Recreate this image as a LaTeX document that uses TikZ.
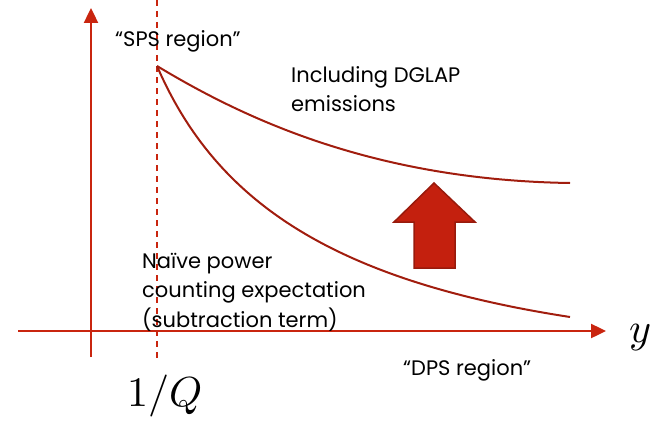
\documentclass[tikz,border=0pt]{standalone}
\usepackage{xcolor}
\usepackage{mathtools}
\usepackage{fontspec}
\usepackage{unicode-math}
\setmainfont{Poppins}
\setmathfont{Latin Modern Math}
\usepackage{tikz}
\usetikzlibrary{arrows.meta}
\definecolor{axisred}{HTML}{C9250F}
\definecolor{curvered}{HTML}{A11D0E}
\definecolor{arrowfill}{HTML}{C4200E}
\definecolor{arrowline}{HTML}{981A0C}

\begin{document}
\begin{tikzpicture}[x=1pt,y=-1pt]
\tikzstyle{every node}+=[inner sep=0pt]
\tikzstyle{axis}=[axisred, line width=2.4pt, -{Triangle[length=15pt,width=14pt]}]
\tikzstyle{curve}=[curvered, line width=2pt]
\tikzstyle{label}=[font=\fontsize{21}{29.5}\selectfont, align=left]
\tikzstyle{mathlabel}=[font=\fontsize{42}{46}\selectfont]
\useasboundingbox (0,0) rectangle (663,420);
% axes
\coordinate (xstart) at (18,331);
\coordinate (xend) at (606,331);
\coordinate (ystart) at (91,357);
\coordinate (yend) at (91,8);
\draw [axis] (xstart) -- (xend);
\draw [axis] (ystart) -- (yend);
% 1/Q line
\coordinate (qtop) at (157,0);
\coordinate (qbot) at (157,358);
\draw [axisred, line width=2pt, dash pattern=on 6pt off 5pt] (qtop) -- (qbot);
% curves
\coordinate (start) at (157,66);
\coordinate (upend) at (570,183);
\coordinate (lowend) at (570,317);
\draw [curve] (start) .. controls (240,116) and (370,180) .. (upend);
\draw [curve] (start) .. controls (215,200) and (330,280) .. (lowend);
% big arrow
\draw [arrowline, fill=arrowfill, line width=1.5pt, line join=miter]
  (414,268) -- (414,222) -- (394,222) -- (434,183) -- (475,222)
  -- (455,222) -- (455,268) -- cycle;
% labels
\node [label, anchor=base west] (sps) at (115,46) {“SPS region”};
\node [label, anchor=base west] (dps) at (403,375) {“DPS region”};
\node [label, anchor=north west] (dglap) at (291,66) {Including DGLAP\\emissions};
\node [label, anchor=north west] (naive) at (142,253) {Naïve power\\counting expectation\\(subtraction term)};
\node [mathlabel] (ylab) at (640,338) {$y$};
\node [mathlabel] (qlab) at (165,396) {$1/Q$};
\end{tikzpicture}
\end{document}
